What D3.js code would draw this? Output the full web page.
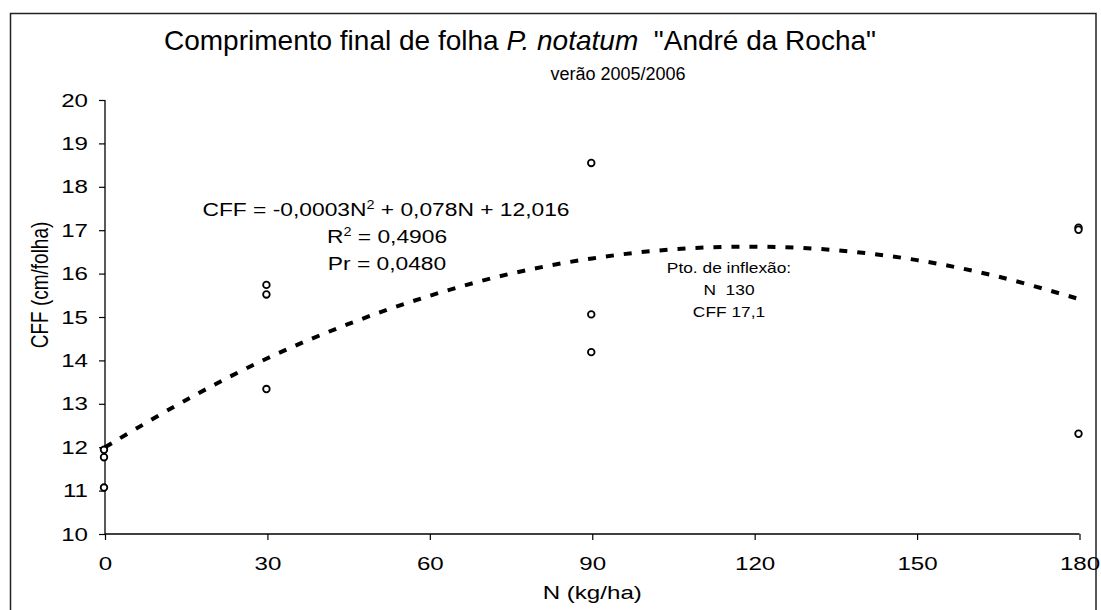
<!DOCTYPE html>
<html>
<head>
<meta charset="utf-8">
<script src="https://cdn.jsdelivr.net/npm/d3@7"></script>
<style>
  body { margin: 0; background: #fff; }
  svg text { font-family: Arial, "Liberation Sans", sans-serif; fill: #000; white-space: pre; }
</style>
</head>
<body>
<div id="chart"></div>
<script>
// observed values (N in kg/ha, CFF in cm/folha)
const doseN = [0, 0, 0, 30, 30, 30, 90, 90, 90, 180, 180, 180];
const cffObs = [11.94, 11.77, 11.07, 15.74, 15.52, 13.34, 18.55, 15.06, 14.19, 17.06, 17.01, 12.31];

// fitted curve
const curveN = [0, 15, 30, 45, 60, 75, 90, 105, 120, 135, 150, 165, 180];
const curveCFF = [12.0, 13.09, 14.05, 14.84, 15.49, 16.0, 16.35, 16.56, 16.62, 16.54, 16.31, 15.93, 15.41];

const xTicks = [0, 30, 60, 90, 120, 150, 180];
const yTicks = [10, 11, 12, 13, 14, 15, 16, 17, 18, 19, 20];

const W = 1101, H = 610;
const margin = {top: 100, right: 21.5, bottom: 76, left: 105};
// the source picture has its chart text widened horizontally
const sx = 1.27;

const svg = d3.select('#chart').append('svg')
    .attr('width', W)
    .attr('height', H);

svg.append('rect')
    .attr('width', W).attr('height', H)
    .attr('fill', '#fff');

// ... outer frame
svg.append('rect')
    .attr('x', 10.5).attr('y', 13.5)
    .attr('width', 1085.5).attr('height', 620)
    .attr('fill', 'none')
    .attr('stroke', '#222')
    .attr('stroke-width', 1.5);

const x = d3.scaleLinear()
    .domain([0, 180])
    .range([margin.left, W - margin.right]);

const y = d3.scaleLinear()
    .domain([10, 20])
    .range([H - margin.bottom, margin.top]);

// ... axes
const xAxis = d3.axisBottom(x)
    .tickValues(xTicks)
    .tickSize(6)
    .tickPadding(17)
    .tickFormat(d3.format('d'));

const yAxis = d3.axisLeft(y)
    .tickValues(yTicks)
    .tickSize(6)
    .tickPadding(10)
    .tickFormat(d3.format('d'));

const gx = svg.append('g')
    .attr('transform', 'translate(0,' + y(10) + ')')
    .call(xAxis);

const gy = svg.append('g')
    .attr('transform', 'translate(' + x(0) + ',0)')
    .call(yAxis);

[gx, gy].forEach(g => {
    g.select('.domain').attr('stroke', '#000').attr('stroke-width', 1.3);
    g.selectAll('.tick line').attr('stroke', '#000').attr('stroke-width', 1.2);
    g.selectAll('.tick text')
        .style('font-family', 'Arial, "Liberation Sans", sans-serif')
        .style('font-size', '19px')
        .attr('fill', '#000');
});
gx.select('.domain').attr('d', 'M' + x(0) + ',0H' + x(180));
gy.select('.domain').attr('d', 'M0,' + y(20) + 'V' + y(10));

gx.selectAll('.tick text').attr('transform', 'scale(' + sx + ',1)');
gy.selectAll('.tick text')
    .attr('x', 0)
    .attr('transform', 'translate(-17,0) scale(' + sx + ',1)');

// ... titles
svg.append('text')
    .attr('x', 520).attr('y', 50)
    .attr('text-anchor', 'middle')
    .style('font-size', '28px')
    .html('Comprimento final de folha <tspan font-style="italic">P. notatum</tspan>  "André da Rocha"');

svg.append('text')
    .attr('x', 618).attr('y', 80)
    .attr('text-anchor', 'middle')
    .style('font-size', '18px')
    .text('verão 2005/2006');

svg.append('text')
    .attr('transform', 'translate(' + (x(0) + x(180)) / 2 + ',599) scale(' + sx + ',1)')
    .attr('text-anchor', 'middle')
    .style('font-size', '19px')
    .text('N (kg/ha)');

svg.append('text')
    .attr('transform', 'translate(48,285) scale(' + sx + ',1) rotate(-90)')
    .attr('text-anchor', 'middle')
    .style('font-size', '19px')
    .text('CFF (cm/folha)');

// ... fitted curve
const line = d3.line()
    .x((d, i) => x(curveN[i]))
    .y(d => y(d))
    .curve(d3.curveCardinal);

svg.append('path')
    .datum(curveCFF)
    .attr('d', line)
    .attr('fill', 'none')
    .attr('stroke', '#000')
    .attr('stroke-width', 4)
    .attr('stroke-dasharray', '8,10');

// ... observed points
svg.append('g')
    .selectAll('circle')
    .data(cffObs)
    .join('circle')
    .attr('cx', (d, i) => x(doseN[i]) - 1)
    .attr('cy', d => y(d))
    .attr('r', 3.3)
    .attr('fill', '#fff')
    .attr('stroke', '#000')
    .attr('stroke-width', 1.8);

// ... equation annotation
const eqScale = 1.2;
const eq = svg.append('g').style('font-size', '19px').attr('text-anchor', 'middle');
eq.append('text').attr('transform', 'translate(386,216) scale(' + eqScale + ',1)')
    .html('CFF = -0,0003N<tspan dy="-7" font-size="12px">2</tspan><tspan dy="7"> + 0,078N + 12,016</tspan>');
eq.append('text').attr('transform', 'translate(387,243) scale(' + eqScale + ',1)')
    .html('R<tspan dy="-7" font-size="12px">2</tspan><tspan dy="7"> = 0,4906</tspan>');
eq.append('text').attr('transform', 'translate(387,270) scale(' + eqScale + ',1)')
    .text('Pr = 0,0480');

// ... inflection annotation
const inf = svg.append('g').style('font-size', '14px').attr('text-anchor', 'middle');
inf.append('text').attr('transform', 'translate(729,273) scale(1.24,1)').text('Pto. de inflexão:');
inf.append('text').attr('transform', 'translate(729,295) scale(1.24,1)').text('N  130');
inf.append('text').attr('transform', 'translate(729,317) scale(1.24,1)').text('CFF 17,1');
</script>
</body>
</html>
